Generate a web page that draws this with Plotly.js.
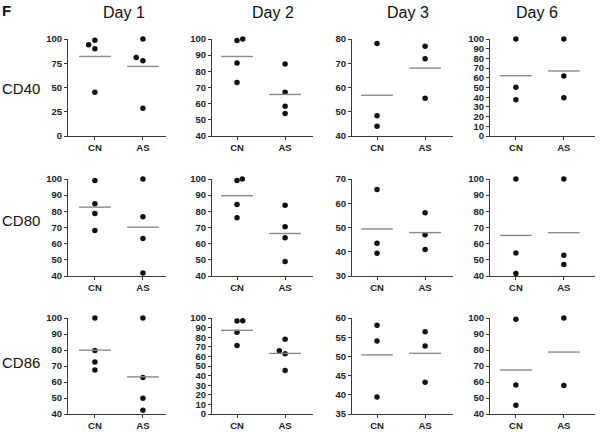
<!DOCTYPE html>
<html><head><meta charset="utf-8">
<script src="https://cdn.plot.ly/plotly-3.0.1.min.js"></script>
<style>html,body{margin:0;padding:0;background:#fff}</style>
</head><body><div id="chart" style="width:600px;height:432px"></div>
<script>
// ---- data ----
const days = ["Day 1", "Day 2", "Day 3", "Day 6"];
const markers = ["CD40", "CD80", "CD86"];
const groups = ["CN", "AS"];
const panelLetter = "F";

const cd40CN = [[98.6, 94, 90, 45.2], [99, 100, 85.1, 73.1], [78.1, 48.3, 44], [100, 50.2, 37.5]];
const cd40AS = [[100, 81, 77.6, 28.6], [84.5, 67.1, 58.4, 53.9], [77, 71.9, 55.6], [100, 61.9, 39.5]];
const cd80CN = [[99, 84.7, 78.7, 68.1], [99, 100, 84.3, 76], [65.7, 43.5, 39.4], [100, 54.3, 41.5]];
const cd80AS = [[100, 76.6, 63.2, 41.9], [83.7, 70.4, 63.6, 48.9], [56.1, 47, 40.9], [100, 52.9, 47.1]];
const cd86CN = [[100, 79.7, 72.5, 67.5], [96.9, 97.2, 85.2, 71.4], [58.1, 54, 39.4], [99.2, 58.2, 45.4]];
const cd86AS = [[100, 62.8, 49.9, 42.3], [77.9, 65.9, 62.8, 45.2], [56.4, 52.7, 43.3], [100, 57.8]];

const cd40CNMean = [82, 89.2, 56.8, 62.2];
const cd40ASMean = [71.7, 65.7, 68, 67];
const cd80CNMean = [82.6, 89.7, 49.4, 65.1];
const cd80ASMean = [70.2, 66.3, 47.9, 66.8];
const cd86CNMean = [79.9, 87.2, 50.4, 67.5];
const cd86ASMean = [63.2, 63.1, 50.8, 78.7];

// axis scales (value ranges and tick steps)
const cd40Range = [[0, 100, 25], [40, 100, 10], [40, 80, 10], [0, 100, 10]];
const cd80Range = [[40, 100, 10], [40, 100, 10], [30, 70, 10], [40, 100, 10]];
const cd86Range = [[40, 100, 10], [0, 100, 10], [35, 60, 5], [40, 100, 10]];

// ---- layout / style (positions) ----
const W = 600, H = 432;
const colPx = [[68, 166], [212, 313], [352, 453], [490, 595]];
const rowPx = [[39, 136], [179, 276], [318, 414]];
const xRanges = [[0.44, 2.48], [0.48, 2.58], [0.48, 2.58], [0.46, 2.65]];
const titlePx = [124, 273, 408, 537];
const rowLabelPx = [88, 220, 362];
// small horizontal jitter for overlapping dots (units of category spacing)
const jitCN = [
  [[0, -0.13, 0, 0], [0, 0.12, 0, 0], [0, 0, 0], [0, 0, 0]],
  [[0, 0, 0, 0], [0, 0.11, 0, 0], [0, 0, 0], [0, 0, 0]],
  [[0, 0, 0, 0], [0, 0.12, 0, 0], [0, 0, 0], [0, 0, 0]]
];
const jitAS = [
  [[0, -0.14, 0, 0], [0, 0, 0, 0], [0, 0, 0], [0, 0, 0]],
  [[0, 0, 0, 0], [0, 0, 0, 0], [0, 0, 0], [0, 0, 0]],
  [[0, 0, 0, 0], [0, -0.12, 0, 0], [0, 0, 0], [0, 0]]
];

const cnData = [cd40CN, cd80CN, cd86CN];
const asData = [cd40AS, cd80AS, cd86AS];
const cnMean = [cd40CNMean, cd80CNMean, cd86CNMean];
const asMean = [cd40ASMean, cd80ASMean, cd86ASMean];
const ranges = [cd40Range, cd80Range, cd86Range];

const axisColor = "#3a3a3a";
const meanColor = "#8a8a8a";
const tickFont = {family: "Liberation Sans, Arial, sans-serif", size: 9.5, color: "#222", weight: "bold"};

const traces = [];
const layout = {
  width: W, height: H,
  margin: {l: 0, r: 0, t: 0, b: 0},
  paper_bgcolor: "#fff", plot_bgcolor: "#fff",
  showlegend: false,
  annotations: []
};

const halfW = 0.33;
for (let r = 0; r < 3; r++) {
  for (let c = 0; c < 4; c++) {
    const idx = r * 4 + c + 1;
    const xa = idx === 1 ? "x" : "x" + idx;
    const ya = idx === 1 ? "y" : "y" + idx;
    const groupVals = [cnData[r][c], asData[r][c]];
    const groupJit = [jitCN[r][c], jitAS[r][c]];
    const groupMean = [cnMean[r][c], asMean[r][c]];
    for (let g = 0; g < 2; g++) {
      const vals = groupVals[g];
      traces.push({
        type: "scatter", mode: "markers", xaxis: xa, yaxis: ya,
        x: vals.map((v, i) => g + 1 + (groupJit[g][i] || 0)),
        y: vals,
        marker: {color: "#111", size: 5.5},
        cliponaxis: false, hoverinfo: "skip"
      });
      traces.push({
        type: "scatter", mode: "lines", xaxis: xa, yaxis: ya,
        x: [g + 1 - halfW, g + 1 + halfW],
        y: [groupMean[g], groupMean[g]],
        line: {color: meanColor, width: 1.4},
        cliponaxis: false, hoverinfo: "skip"
      });
    }
    const rg = ranges[r][c];
    const xk = idx === 1 ? "xaxis" : "xaxis" + idx;
    const yk = idx === 1 ? "yaxis" : "yaxis" + idx;
    layout[xk] = {
      domain: [colPx[c][0] / W, colPx[c][1] / W],
      range: xRanges[c],
      anchor: ya,
      tickmode: "array", tickvals: [1, 2], ticktext: groups,
      showline: true, linecolor: axisColor, linewidth: 1,
      ticks: "outside", ticklen: 3, tickcolor: axisColor,
      showgrid: false, zeroline: false,
      tickfont: tickFont, fixedrange: true
    };
    layout[yk] = {
      domain: [1 - rowPx[r][1] / H, 1 - rowPx[r][0] / H],
      range: [rg[0], rg[1]],
      anchor: xa,
      tickmode: "linear", tick0: rg[0], dtick: rg[2],
      showline: true, linecolor: axisColor, linewidth: 1,
      ticks: "outside", ticklen: 3, tickcolor: axisColor,
      showgrid: false, zeroline: false,
      tickfont: tickFont, fixedrange: true
    };
  }
}

// column titles
days.forEach((d, c) => {
  layout.annotations.push({
    text: d, xref: "paper", yref: "paper",
    x: titlePx[c] / W, y: 1 - 13 / H, xanchor: "center", yanchor: "middle",
    showarrow: false, font: {family: "Liberation Sans, Arial, sans-serif", size: 16, color: "#111"}
  });
});
// row labels
markers.forEach((m, r) => {
  layout.annotations.push({
    text: m, xref: "paper", yref: "paper",
    x: 0, y: 1 - rowLabelPx[r] / H, xanchor: "left", yanchor: "middle",
    showarrow: false, font: {family: "Liberation Sans, Arial, sans-serif", size: 15, color: "#111"}
  });
});
layout.annotations.push({
  text: "<b>" + panelLetter + "</b>", xref: "paper", yref: "paper",
  x: 0, y: 1, xanchor: "left", yanchor: "top",
  showarrow: false, font: {family: "Liberation Sans, Arial, sans-serif", size: 15, color: "#111"}
});

Plotly.newPlot("chart", traces, layout, {displayModeBar: false, staticPlot: true});
</script></body></html>
